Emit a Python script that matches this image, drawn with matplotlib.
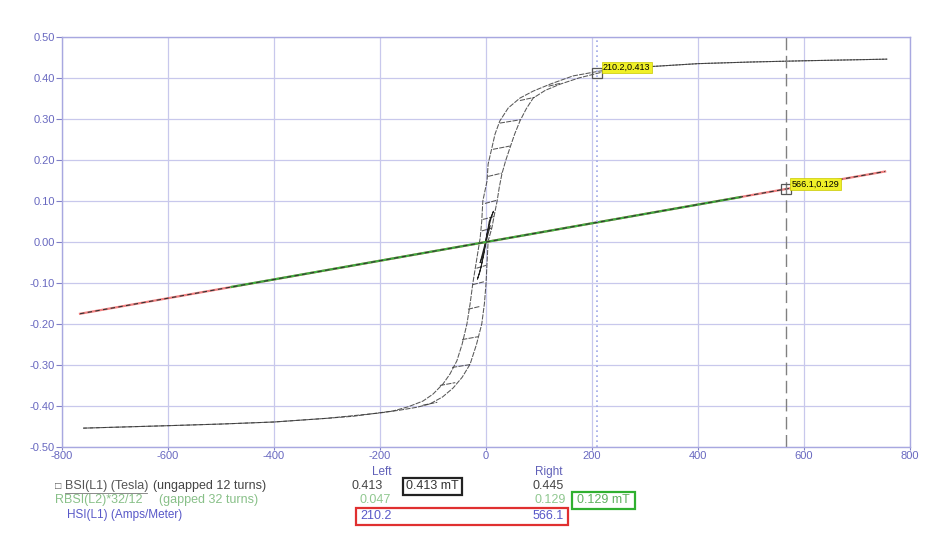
import matplotlib.pyplot as plt
from matplotlib.patches import Rectangle

# major loop, descending branch (from +sat to -sat)
h_desc = [757, 600, 500, 400, 300, 260, 215, 164, 121, 89, 64, 42, 26, 17, 11, 4, 2, -6, -8, -11,
          -25, -30, -36, -45, -55, -68, -81, -100, -119, -147, -175, -250, -300, -400, -500, -600, -760]
b_desc = [0.446, 0.442, 0.439, 0.435, 0.427, 0.422, 0.417, 0.405, 0.385, 0.368, 0.351, 0.327, 0.295,
          0.263, 0.229, 0.190, 0.149, 0.100, 0.051, 0.010, -0.102, -0.151, -0.200, -0.249, -0.290,
          -0.322, -0.346, -0.371, -0.388, -0.402, -0.412, -0.425, -0.430, -0.439, -0.444, -0.448, -0.454]
# major loop, ascending branch
h_asc = [-760, -600, -500, -400, -300, -200, -162, -130, -106, -82, -62, -45, -30, -18, -8, -3, 0, 2, 4,
         11, 16, 21, 25, 30, 37, 45, 54, 64, 76, 89, 112, 140, 175, 215, 260, 300, 400, 500, 600, 757]
b_asc = [-0.454, -0.448, -0.444, -0.439, -0.430, -0.417, -0.410, -0.403, -0.395, -0.378, -0.356, -0.330,
         -0.298, -0.250, -0.200, -0.150, -0.102, -0.050, 0.002, 0.034, 0.068, 0.100, 0.133, 0.166, 0.198,
         0.229, 0.263, 0.295, 0.325, 0.351, 0.370, 0.385, 0.400, 0.413, 0.421, 0.427, 0.435, 0.439, 0.442, 0.446]

# minor loop tips (upper)
up_h_left = [118, 64, 26, 13, 4, -2, -6, -8]
up_h_right = [140, 92, 64, 45, 30, 21, 15, 11]
up_b_left = [0.380, 0.345, 0.290, 0.226, 0.160, 0.094, 0.055, 0.027]
up_b_right = [0.387, 0.353, 0.298, 0.234, 0.168, 0.102, 0.062, 0.034]
# minor loop tips (lower)
lo_h_left = [-119, -87, -64, -45, -34, -25, -18]
lo_h_right = [-92, -58, -30, -15, -11, -4, 0]
lo_b_left = [-0.398, -0.350, -0.306, -0.238, -0.164, -0.104, -0.064]
lo_b_right = [-0.391, -0.343, -0.299, -0.231, -0.157, -0.097, -0.057]

# small loops near the origin
small_h = [[-16, -9, 2, 10, 14, 6, -4, -12, -16], [-11, -5, 3, 8, 4, -3, -8, -11]]
small_b = [[-0.090, -0.060, 0.020, 0.060, 0.075, 0.050, -0.030, -0.075, -0.090],
           [-0.050, -0.030, 0.015, 0.040, 0.032, -0.010, -0.035, -0.050]]

# gapped inductor trace
gap_h = [-766, 753]
gap_b = [-0.175, 0.172]
gap_green_h = [-480, 480]
gap_green_b = [-0.1095, 0.1095]

cur_left = (210.2, 0.413)
cur_right = (566.1, 0.129)

xticks = [-800, -600, -400, -200, 0, 200, 400, 600, 800]
yticks = [0.5, 0.4, 0.3, 0.2, 0.1, 0.0, -0.1, -0.2, -0.3, -0.4, -0.5]

plt.rcParams['font.family'] = ['Liberation Sans', 'DejaVu Sans']

fig = plt.figure(figsize=(9.38, 5.46), dpi=100)
ax = fig.add_axes([62/938, 1-447/546, 848/938, 410/546])

trace = dict(color='#3a3a3a', lw=0.75, ls=(0, (5, 1.2)), alpha=0.85)
ax.plot(h_desc, b_desc, **trace)
ax.plot(h_asc, b_asc, **trace)
for i in range(len(up_b_left)):
    ax.plot([up_h_left[i], up_h_right[i]], [up_b_left[i], up_b_right[i]], **trace)
for i in range(len(lo_b_left)):
    ax.plot([lo_h_left[i], lo_h_right[i]], [lo_b_left[i], lo_b_right[i]], **trace)
for hh, bb in zip(small_h, small_b):
    ax.plot(hh, bb, color='#222222', lw=0.7)

ax.plot(gap_h, gap_b, color='#f08080', lw=1.6)
ax.plot(gap_green_h, gap_green_b, color='#40b040', lw=1.6)
ax.plot(gap_h, gap_b, color='#333333', lw=0.8, ls=(0, (4, 3)))

ax.axvline(cur_left[0], color='#a0a8e8', lw=1.2, ls=(0, (1, 2)))
ax.axvline(cur_right[0], color='#808080', lw=1.0, ls=(0, (9, 4)))
for c in (cur_left, cur_right):
    ax.plot(c[0], c[1], marker='s', ms=7, mfc='none', mec='#555555', mew=0.9)
ax.annotate('210.2,0.413', cur_left, xytext=(4, 2), textcoords='offset points', fontsize=6.5,
            bbox=dict(boxstyle='square,pad=0.15', fc='#f0f028', ec='#c8c800', lw=0.5))
ax.annotate('566.1,0.129', cur_right, xytext=(4, 2), textcoords='offset points', fontsize=6.5,
            bbox=dict(boxstyle='square,pad=0.15', fc='#f0f028', ec='#c8c800', lw=0.5))

ax.set_xlim(-800, 800)
ax.set_ylim(-0.5, 0.5)
ax.set_xticks(xticks)
ax.set_xticklabels([str(t) for t in xticks])
ax.set_yticks(yticks)
ax.set_yticklabels(['%.2f' % t for t in yticks])
ax.grid(True, color='#c8c8ec', lw=0.9)
ax.tick_params(colors='#8080c8', labelcolor='#6868c0', labelsize=8, width=0.8, pad=1)
ax.tick_params(axis='x', length=2)
ax.tick_params(axis='y', length=4)
for s in ax.spines.values():
    s.set_color('#a8a8e0')
    s.set_linewidth(1.0)

def fx(px):
    return px / 938
def fy(py):
    return 1 - py / 546

fs = 9
fig.text(fx(382), fy(472), 'Left', ha='center', va='center', fontsize=8.5, color='#6060b8')
fig.text(fx(549), fy(472), 'Right', ha='center', va='center', fontsize=8.5, color='#6060b8')

fig.text(fx(55), fy(486), '\u25a1', ha='left', va='center', fontsize=7.5, color='#555555')
fig.text(fx(65), fy(486), 'BSI(L1) (Tesla)', ha='left', va='center', fontsize=fs, color='#555555')
fig.add_artist(plt.Line2D([fx(65), fx(147)], [fy(493), fy(493)], color='#777777', lw=0.6))
fig.text(fx(153), fy(486), '(ungapped 12 turns)', ha='left', va='center', fontsize=fs, color='#444444')
fig.text(fx(55), fy(500), 'RBSI(L2)*32/12', ha='left', va='center', fontsize=fs, color='#88c088')
fig.text(fx(159), fy(500), '(gapped 32 turns)', ha='left', va='center', fontsize=fs, color='#88c088')
fig.text(fx(67), fy(515), 'HSI(L1) (Amps/Meter)', ha='left', va='center', fontsize=8.5, color='#5858c8')

fig.text(fx(383), fy(486), '0.413', ha='right', va='center', fontsize=fs, color='#444444')
fig.text(fx(564), fy(486), '0.445', ha='right', va='center', fontsize=fs, color='#444444')
fig.text(fx(391), fy(500), '0.047', ha='right', va='center', fontsize=fs, color='#90c890')
fig.text(fx(566), fy(500), '0.129', ha='right', va='center', fontsize=fs, color='#90c890')
fig.text(fx(360), fy(516), '210.2', ha='left', va='center', fontsize=fs, color='#5858c8')
fig.text(fx(564), fy(516), '566.1', ha='right', va='center', fontsize=fs, color='#5858c8')

fig.add_artist(Rectangle((fx(403), fy(495)), fx(59), 17/546, fill=False, ec='#222222', lw=1.6))
fig.text(fx(432), fy(486), '0.413 mT', ha='center', va='center', fontsize=fs, color='#333333')
fig.add_artist(Rectangle((fx(572), fy(509)), fx(63), 17/546, fill=False, ec='#30b030', lw=1.6))
fig.text(fx(603), fy(500), '0.129 mT', ha='center', va='center', fontsize=fs, color='#60b060')
fig.add_artist(Rectangle((fx(356), fy(525)), fx(212), 17/546, fill=False, ec='#e03030', lw=1.6))

fig.savefig('out.png', dpi=100)
